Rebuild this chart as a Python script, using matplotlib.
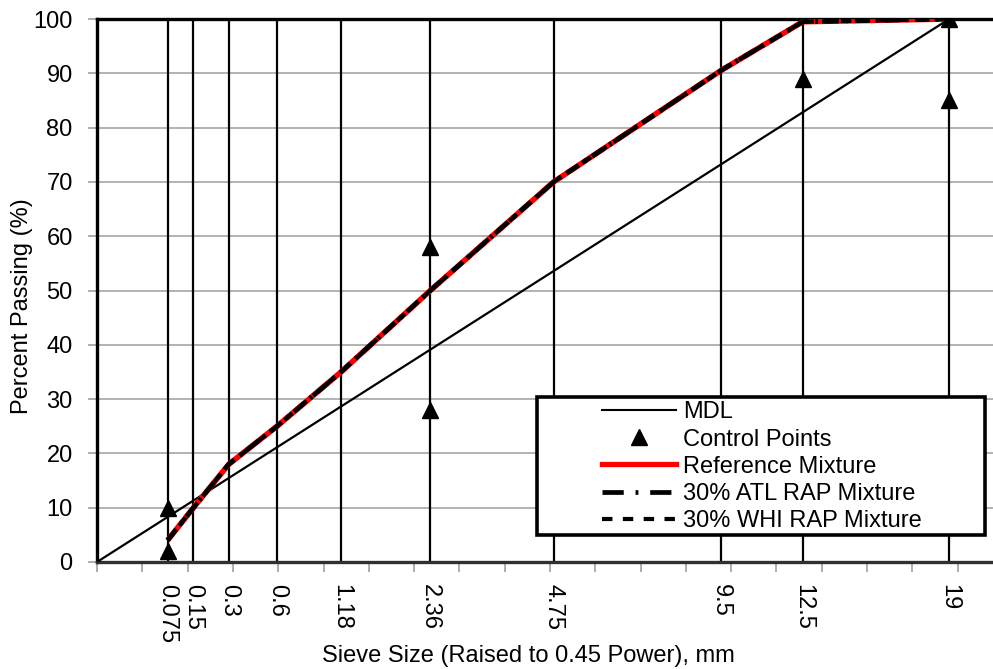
#!/usr/bin/env python3

import numpy as np
import matplotlib
matplotlib.use("Agg")
import matplotlib.pyplot as plt
from matplotlib.patches import Rectangle

plt.rcParams["font.family"] = ["Liberation Sans", "DejaVu Sans"]
plt.rcParams["font.size"] = 17

# Sieve sizes (mm) and gradations (% passing)
sieves = [0.075, 0.15, 0.3, 0.6, 1.18, 2.36, 4.75, 9.5, 12.5, 19]
sieve_labels = ["0.075", "0.15", "0.3", "0.6", "1.18", "2.36", "4.75", "9.5", "12.5", "19"]
reference_mix = [4, 10, 18, 25, 35, 50, 70, 90.5, 99.5, 100]
atl_rap_mix = [4, 10, 18, 25, 35, 50, 70, 90.5, 99.5, 100]
whi_rap_mix = [4, 10, 18, 25, 35, 50, 70, 90.5, 99.5, 100]

# Maximum density line end points
mdl_sizes = [0, 19]
mdl_passing = [0, 100]

# Superpave control points
cp_sizes = [0.075, 0.075, 2.36, 2.36, 12.5, 19, 19]
cp_passing = [2, 10, 28, 58, 89, 85, 100]

P = 0.45


def tr(v):
    return np.power(np.asarray(v, dtype=float), P)


W, H = 993, 669
fig = plt.figure(figsize=(W / 100, H / 100), dpi=100)
ax = fig.add_axes([97 / W, 1 - 562 / H, 906 / W, 543 / H])

ax.set_xlim(0, 4.0)
ax.set_ylim(0, 100)

# horizontal gridlines
ax.set_yticks(np.arange(0, 101, 10))
ax.yaxis.grid(True, color="#a6a6a6", lw=1.2)
ax.set_axisbelow(True)

# vertical sieve lines
ax.vlines(tr(sieves), 0, 100, color="black", lw=1.6, zorder=2)

ax.plot(tr(mdl_sizes), mdl_passing, color="black", lw=1.6, zorder=3)
ax.plot(tr(cp_sizes), cp_passing, ls="none", marker="^", ms=12,
        color="black", zorder=6)
ax.plot(tr(sieves), reference_mix, color="#ff0000", lw=4.0, zorder=4,
        solid_capstyle="butt")
ax.plot(tr(sieves), atl_rap_mix, color="black", lw=3.4, zorder=5,
        dashes=(3.0, 1.4, 0.6, 1.4))
ax.plot(tr(sieves), whi_rap_mix, color="black", lw=3.0, zorder=5,
        dashes=(2.5, 2.0))

# spines
for s in ["left", "top", "bottom"]:
    ax.spines[s].set_linewidth(2.4)
    ax.spines[s].set_color("black")
ax.spines["bottom"].set_color("#303030")
ax.spines["right"].set_visible(False)

# y ticks
ax.tick_params(axis="y", direction="out", length=6.5, width=1.2,
               color="#a0a0a0", pad=11)

# x ticks: gray unlabeled every 0.2, sieve labels as minor ticks
ax.set_xticks(np.arange(0, 4.01, 0.2))
ax.set_xticklabels([])
ax.tick_params(axis="x", which="major", direction="out", length=7,
               width=1.2, color="#a0a0a0")
ax.set_xticks(tr(sieves), sieve_labels, minor=True)
ax.tick_params(axis="x", which="minor", length=0, pad=16, labelrotation=270)
for lbl in ax.get_xticklabels(minor=True):
    lbl.set_ha("center")
    lbl.set_va("top")

fig.text(528 / W, 1 - 656 / H, "Sieve Size (Raised to 0.45 Power), mm",
         ha="center", va="center")
fig.text(22 / W, 1 - 306 / H, "Percent Passing (%)", rotation=90,
         ha="center", va="center")

# legend with a square black frame
handles = [
    plt.Line2D([], [], color="black", lw=1.5),
    plt.Line2D([], [], ls="none", marker="^", ms=12, color="black"),
    plt.Line2D([], [], color="#ff0000", lw=3.8),
    plt.Line2D([], [], color="black", lw=3.4, dashes=(4.5, 2.5, 0.6, 2.5)),
    plt.Line2D([], [], color="black", lw=3.0, dashes=(2.5, 2.5)),
]
labels = ["MDL", "Control Points", "Reference Mixture",
          "30% ATL RAP Mixture", "30% WHI RAP Mixture"]
leg = ax.legend(handles, labels, loc="upper left",
                bbox_to_anchor=((600 - 97) / 906, (562 - 399) / 543),
                frameon=False, handlelength=3.1, handletextpad=0.3,
                labelspacing=0.22, borderpad=0.1, borderaxespad=0)
leg.set_zorder(10)
frame = Rectangle(((537 - 97) / 906, (562 - 535) / 543),
                  (985 - 537) / 906, (535 - 397) / 543,
                  transform=ax.transAxes, facecolor="white",
                  edgecolor="black", lw=2.6, zorder=9, clip_on=False)
ax.add_patch(frame)

fig.savefig("out.png", dpi=100)
